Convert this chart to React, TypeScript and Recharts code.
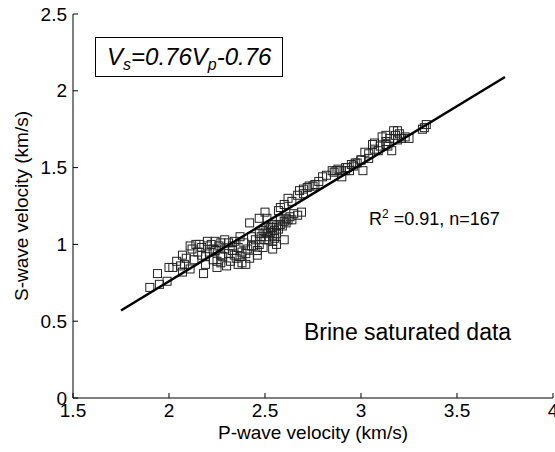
import { ScatterChart, Scatter, XAxis, YAxis } from 'recharts'

// P-wave / S-wave velocities (km/s), brine saturated samples
const vp = [
  1.9, 1.95, 1.94, 1.99, 2.0, 2.02, 2.04, 2.07, 2.07, 2.08, 2.11, 2.14, 2.16, 2.17, 2.18, 2.19,
  2.2, 2.21, 2.23, 2.24, 2.25, 2.27, 2.27, 2.29, 2.3, 2.31, 2.33, 2.34, 2.35, 2.36, 2.37, 2.38,
  2.4, 2.41, 2.42, 2.43, 2.44, 2.46, 2.47, 2.47, 2.5, 2.51, 2.5, 2.52, 2.53, 2.54, 2.54, 2.54,
  2.56, 2.57, 2.58, 2.6, 2.6, 2.61, 2.62, 2.64, 2.65, 2.67, 2.67, 2.69, 2.68, 2.7, 2.72, 2.73,
  2.76, 2.8, 2.85, 2.87, 2.89, 2.9, 2.92, 2.93, 2.95, 2.97, 3.0, 3.01, 3.02, 3.04, 3.06, 3.07,
  3.09, 3.11, 3.13, 3.13, 3.14, 3.16, 3.17, 3.19, 3.19, 3.21, 3.25, 3.32, 3.33, 3.34,
  2.12, 2.13, 2.15, 2.17, 2.19, 2.2, 2.22, 2.23, 2.24, 2.26, 2.27, 2.28, 2.29, 2.31, 2.32, 2.33,
  2.34, 2.36, 2.37, 2.39, 2.4, 2.42, 2.43, 2.45, 2.46, 2.06, 2.09, 2.11, 2.25, 2.38,
  2.48, 2.49, 2.5, 2.51, 2.52, 2.52, 2.53, 2.54, 2.54, 2.55, 2.55, 2.56, 2.57, 2.58, 2.59, 2.6,
  2.61, 2.62, 2.63, 2.47, 2.49, 2.56,
  2.58, 2.64, 2.7, 2.75, 2.78, 2.82, 2.86, 2.88, 2.92, 2.94, 2.96, 2.98, 3.0, 3.04, 3.07, 3.1,
  3.13, 3.15, 3.18, 3.2, 3.23,
]
const vs = [
  0.72, 0.74, 0.81, 0.76, 0.85, 0.85, 0.89, 0.82, 0.93, 0.87, 0.99, 1.0, 1.0, 0.93, 0.81, 0.87,
  1.02, 0.95, 0.97, 1.02, 0.85, 0.93, 0.88, 1.03, 0.86, 0.94, 0.99, 1.02, 0.91, 0.87, 1.05, 0.95,
  0.87, 0.97, 1.14, 1.05, 0.99, 0.93, 1.17, 1.07, 1.21, 1.17, 1.08, 1.03, 1.11, 0.97, 1.13, 1.02,
  1.12, 1.22, 1.16, 1.26, 1.03, 1.14, 1.3, 1.16, 1.2, 1.19, 1.32, 1.21, 1.35, 1.36, 1.37, 1.38,
  1.39, 1.44, 1.48, 1.48, 1.48, 1.44, 1.48, 1.5, 1.52, 1.53, 1.55, 1.48, 1.6, 1.56, 1.65, 1.66,
  1.61, 1.7, 1.65, 1.71, 1.64, 1.61, 1.74, 1.74, 1.68, 1.69, 1.69, 1.75, 1.76, 1.78,
  0.97, 0.9, 0.95, 0.98, 0.92, 0.99, 1.0, 0.9, 0.96, 0.99, 1.01, 0.92, 0.97, 1.01, 0.89, 0.96,
  0.93, 0.98, 0.92, 1.01, 0.94, 0.91, 0.99, 1.03, 0.96, 0.86, 0.91, 0.84, 0.89, 0.88,
  1.05, 1.09, 1.03, 1.07, 1.1, 1.05, 1.08, 1.06, 1.11, 1.04, 1.09, 1.07, 1.1, 1.13, 1.12, 1.15,
  1.17, 1.16, 1.18, 1.0, 0.98, 1.0,
  1.24, 1.28, 1.33, 1.38, 1.41, 1.45, 1.47, 1.49, 1.5, 1.48, 1.51, 1.53, 1.55, 1.59, 1.62, 1.64,
  1.67, 1.69, 1.71, 1.72, 1.7,
]

// regression Vs = 0.76 Vp - 0.76, end points
const fitVp = [1.75, 3.75]
const fitVs = [0.57, 2.09]

const xTicks = [1.5, 2, 2.5, 3, 3.5, 4]
const yTicks = [0, 0.5, 1, 1.5, 2, 2.5]

const points = vp.map((x, i) => ({ vp: x, vs: vs[i] }))
const fit = fitVp.map((x, i) => ({ vp: x, vs: fitVs[i] }))

const font = '"Liberation Sans", Arial, sans-serif'

const Square = (props: any) => {
  const { cx, cy } = props
  return <rect x={cx - 4} y={cy - 4} width={8} height={8} fill="none" stroke="#222" strokeWidth={1} />
}

const NoDot = () => <g />

const BottomTick = (props: any) => {
  const { x, y, payload } = props
  return (
    <g>
      <line x1={x} x2={x} y1={y} y2={y - 5} stroke="#000" />
      <text x={x} y={y + 19} textAnchor="middle" fontSize={19} fontFamily={font} fill="#000">
        {payload.value}
      </text>
    </g>
  )
}

const LeftTick = (props: any) => {
  const { x, y, payload } = props
  return (
    <g>
      <line x1={x} x2={x + 5} y1={y} y2={y} stroke="#000" />
      <text x={x - 6} y={y} dy="0.35em" textAnchor="end" fontSize={19} fontFamily={font} fill="#000">
        {payload.value}
      </text>
    </g>
  )
}

const TopTick = (props: any) => {
  const { x, y } = props
  return <line x1={x} x2={x} y1={y} y2={y + 5} stroke="#000" />
}

const RightTick = (props: any) => {
  const { x, y } = props
  return <line x1={x} x2={x - 5} y1={y} y2={y} stroke="#000" />
}

const overlay = { position: 'absolute' as const, pointerEvents: 'none' as const, whiteSpace: 'nowrap' as const }

export default function App() {
  return (
    <div
      style={{
        position: 'absolute',
        left: 0,
        top: 0,
        width: 555,
        height: 452,
        background: '#fff',
        fontFamily: font,
        color: '#000',
      }}
    >
      <ScatterChart width={555} height={452} margin={{ top: 14, right: 2, bottom: 0, left: 0 }}>
        <XAxis
          dataKey="vp"
          type="number"
          domain={[1.5, 4]}
          ticks={xTicks}
          interval={0}
          height={54}
          tickSize={0}
          tickMargin={0}
          axisLine={{ stroke: '#000' }}
          tickLine={false}
          tick={<BottomTick />}
          allowDataOverflow
        />
        <XAxis
          xAxisId="top"
          orientation="top"
          type="number"
          domain={[1.5, 4]}
          ticks={xTicks}
          interval={0}
          height={0}
          tickSize={0}
          tickMargin={0}
          axisLine={{ stroke: '#000' }}
          tickLine={false}
          tick={<TopTick />}
        />
        <YAxis
          dataKey="vs"
          type="number"
          domain={[0, 2.5]}
          ticks={yTicks}
          interval={0}
          width={73}
          tickSize={0}
          tickMargin={0}
          axisLine={{ stroke: '#000' }}
          tickLine={false}
          tick={<LeftTick />}
          allowDataOverflow
        />
        <YAxis
          yAxisId="right"
          orientation="right"
          type="number"
          domain={[0, 2.5]}
          ticks={yTicks}
          interval={0}
          width={0}
          tickSize={0}
          tickMargin={0}
          axisLine={{ stroke: '#000' }}
          tickLine={false}
          tick={<RightTick />}
        />
        <Scatter data={points} shape={<Square />} isAnimationActive={false} />
        <Scatter
          data={fit}
          shape={<NoDot />}
          line={{ stroke: '#000', strokeWidth: 2.5 }}
          lineType="joint"
          isAnimationActive={false}
        />
      </ScatterChart>

      <div
        style={{
          ...overlay,
          left: 95,
          top: 37,
          width: 188,
          height: 40,
          boxSizing: 'border-box',
          border: '1px solid #000',
          paddingLeft: 11,
          fontSize: 24,
          lineHeight: '38px',
          fontStyle: 'italic',
          background: '#fff',
        }}
      >
        V<span style={{ fontSize: 16, position: 'relative', top: 5 }}>s</span>=0.76V
        <span style={{ fontSize: 16, position: 'relative', top: 5 }}>p</span>-0.76
      </div>

      <div style={{ ...overlay, left: 369, top: 209, fontSize: 18, lineHeight: '20px' }}>
        R<span style={{ fontSize: 12, position: 'relative', top: -7 }}>2</span> =0.91, n=167
      </div>

      <div style={{ ...overlay, left: 304, top: 319, fontSize: 23, lineHeight: '26px' }}>
        Brine saturated data
      </div>

      <div
        style={{
          ...overlay,
          left: 313,
          top: 422,
          fontSize: 19,
          lineHeight: '22px',
          transform: 'translateX(-50%)',
        }}
      >
        P-wave velocity (km/s)
      </div>

      <div
        style={{
          ...overlay,
          left: 22,
          top: 206,
          fontSize: 19,
          lineHeight: '22px',
          transform: 'translate(-50%, -50%) rotate(-90deg)',
        }}
      >
        S-wave velocity (km/s)
      </div>
    </div>
  )
}
